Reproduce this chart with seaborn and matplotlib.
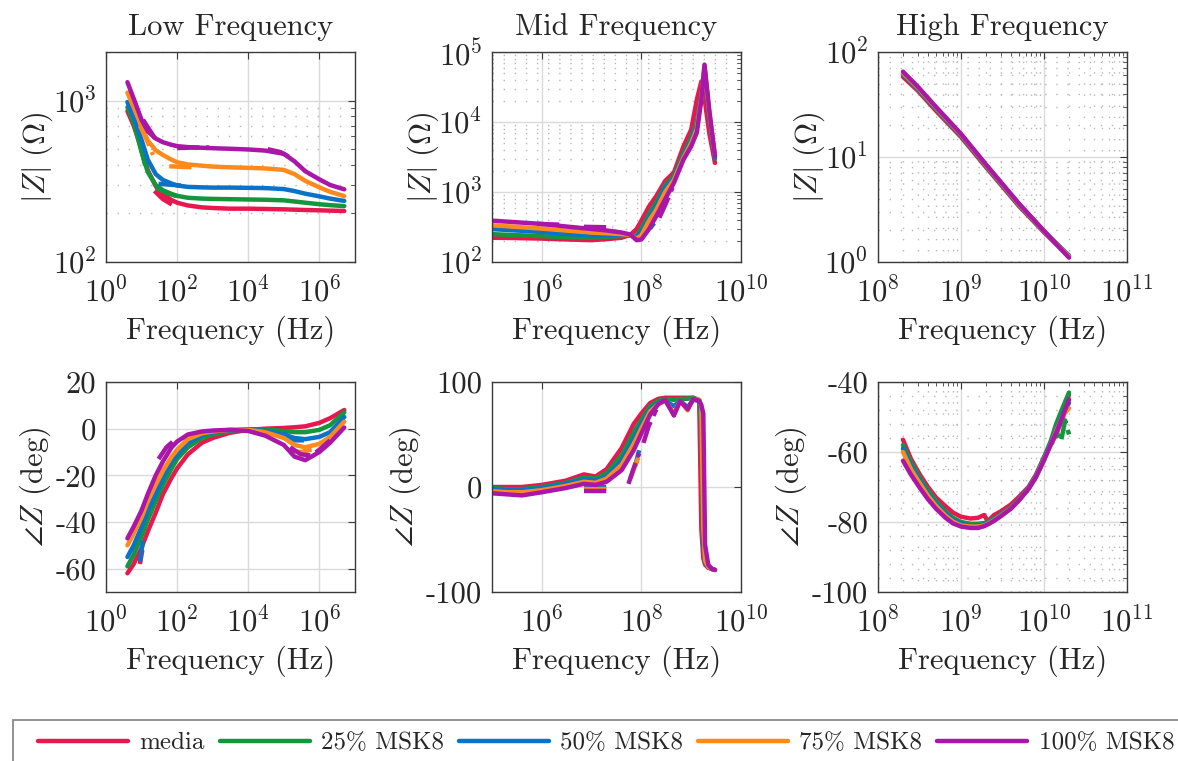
import numpy as np
import pandas as pd
import matplotlib
matplotlib.use("Agg")
import matplotlib.pyplot as plt
import matplotlib.ticker as mticker
from matplotlib.lines import Line2D
from matplotlib.patches import Rectangle
import seaborn as sns

# === Series ===
series = ["media", "25% MSK8", "50% MSK8", "75% MSK8", "100% MSK8"]
colors = ["#E8174F", "#14963C", "#0A72C8", "#FF8A1C", "#A817A8"]

# === Low frequency panel (Hz) ===
lo_f = [4, 6, 10, 15, 25, 40, 70, 100, 200, 500, 1e3, 3e3, 1e4, 3e4, 1e5, 2e5, 4e5, 1e6, 2e6, 5e6]
lo_mag = [
    [860, 700, 500, 370, 295, 262, 242, 233, 224, 218, 216, 214, 214, 213, 212, 211, 210, 209, 208, 207],
    [910, 730, 480, 360, 300, 278, 264, 257, 250, 247, 246, 245, 244, 243, 241, 237, 233, 228, 225, 222],
    [980, 790, 570, 430, 350, 322, 306, 298, 292, 290, 289, 289, 288, 287, 283, 275, 265, 255, 247, 239],
    [1120, 910, 690, 565, 492, 460, 430, 415, 402, 395, 390, 386, 383, 380, 372, 350, 318, 290, 272, 256],
    [1300, 1030, 760, 645, 582, 552, 532, 522, 515, 510, 507, 503, 498, 490, 468, 420, 365, 325, 300, 282],
]
lo_mag_dash = [
    (0, [23, 40, 85], [276, 245, 222]),
    (1, [9, 11, 14], [540, 450, 360]),
    (1, [25, 50, 120], [290, 268, 252]),
    (2, [30, 80, 160], [305, 300, 297]),
    (3, [9, 14, 21], [700, 570, 460]),
    (3, [60, 150, 350], [392, 388, 386]),
    (4, [11, 20, 30], [760, 620, 535]),
    (4, [100, 300, 800], [508, 512, 512]),
    (4, [3.5e4, 8e4, 1.5e5], [500, 480, 445]),
]
lo_ph = [
    [-62, -58, -51, -44, -36, -28, -21, -17, -11, -6, -4, -1.8, -0.5, 0, 0.3, 0.6, 1, 2.5, 4.5, 8],
    [-59, -54, -46, -39, -31, -24, -17, -13, -8, -4, -2.5, -1, -0.3, -0.3, -1, -1.5, -1.5, -0.5, 1.5, 7],
    [-55, -50, -42, -35, -28, -21, -14, -11, -6, -2.8, -1.5, -0.6, -0.3, -1, -2.5, -4, -4.5, -3.5, -1.5, 5],
    [-50, -45, -38, -31, -24, -18, -12, -9, -4.5, -2, -1.2, -0.5, -0.5, -1.5, -4, -7, -8, -6.5, -3.5, 3],
    [-47, -42, -35, -28, -20, -14, -8, -5.5, -2.5, -1.2, -0.8, -0.5, -1, -3, -7, -12, -13.5, -10, -6, 0.5],
]
lo_ph_dash = [
    (0, [9, 10.5], [-58, -52]),
    (2, [9, 10, 11], [-57, -52, -48]),
    (2, [1e5, 2e5, 4e5], [-2, -5, -5]),
    (3, [150, 250, 400], [-5, -3, -2]),
    (3, [1.5e5, 3e5, 6e5], [-9.5, -10, -9]),
    (4, [30, 50, 90], [-13, -8, -4.5]),
    (4, [1.5e5, 3e5, 6e5, 1e6, 2e6], [-8, -11, -11.5, -9, -5]),
]

# === Mid frequency panel (Hz) ===
mid_f = [1e5, 3e5, 1e6, 3e6, 1e7, 2e7, 4e7, 6e7, 8e7, 1e8, 1.4e8, 2e8, 3e8, 4.5e8, 7e8,
         1e9, 1.3e9, 1.6e9, 1.85e9, 2.3e9, 3e9]
mid_mag = [
    [222, 220, 216, 210, 205, 212, 222, 245, 295, 390, 610, 880, 1440, 1900, 4500, 7800, 21000, 38000, 22000, 7000, 2600],
    [250, 242, 234, 226, 222, 228, 235, 238, 240, 300, 480, 720, 1250, 1700, 3600, 6000, 10000, 24000, 52000, 12000, 3000],
    [295, 282, 268, 252, 240, 242, 242, 240, 225, 270, 420, 640, 1150, 1600, 3300, 5500, 9000, 23000, 58000, 13000, 3100],
    [335, 318, 300, 282, 263, 258, 250, 243, 215, 240, 380, 560, 1000, 1500, 3100, 5000, 8000, 22000, 64000, 14000, 3300],
    [390, 370, 350, 322, 296, 282, 264, 247, 205, 210, 290, 455, 790, 1350, 2900, 4500, 7100, 21000, 66000, 15000, 3250],
]
mid_mag_dash = [
    (2, [1.5e8, 1.8e8], [300, 360]),
    (4, [8e5, 1.5e6, 3e6], [350, 345, 340]),
    (4, [7e6, 1.5e7, 2.7e7], [318, 315, 312]),
    (4, [2.3e8, 3e8, 4.2e8], [430, 650, 1150]),
]
mp_f = [1e5, 2e5, 4e5, 1e6, 3e6, 7e6, 1.2e7, 2e7, 4e7, 7e7, 1e8, 1.5e8, 2.2e8, 3e8, 4.5e8,
        6e8, 8.5e8, 1.1e9, 1.45e9, 1.6e9, 1.75e9, 1.9e9, 2.2e9, 2.6e9, 3e9]
mid_ph = [
    [0, 0, 0, 2, 6, 12, 10, 17, 37, 60, 70, 80, 84, 85, 85, 85, 85, 85, 82, -40, -68, -74, -77, -78, -79],
    [-1, -2, -2, 0, 4, 9, 8, 13, 30, 52, 64, 77, 82, 84, 83, 84, 84, 85, 83, 55, -55, -72, -76, -78, -79],
    [-2, -3, -3, -1, 3, 7, 6, 10, 25, 46, 60, 74, 80, 82, 77, 82, 76, 83, 82, 70, -50, -72, -76, -78, -79],
    [-4, -5, -5, -3, 1, 5, 4, 8, 21, 41, 56, 72, 79, 82, 70, 82, 73, 84, 83, 76, -38, -70, -76, -78, -79],
    [-6, -7, -8, -5, -1, 3, 2, 5, 16, 35, 51, 69, 79, 83, 68, 82, 74, 84, 82, 78, 70, -55, -74, -78, -79],
]
mid_ph_dash = [
    (2, [7e6, 1.4e7, 2.5e7], [0, 0, 0]),
    (2, [7.5e7, 9e7], [20, 35]),
    (3, [7e6, 1.4e7, 2.5e7], [-2, -2, -2]),
    (3, [6e7, 7.5e7, 9e7], [8, 20, 30]),
    (4, [7e6, 1.4e7, 2.5e7], [-4, -4, -4]),
    (4, [5.5e7, 7e7, 9e7], [3, 18, 32]),
    (4, [1.1e8, 1.4e8, 2e8], [42, 58, 74]),
]

# === High frequency panel (Hz) ===
hi_f = [2e8, 3e8, 5e8, 1e9, 2e9, 5e9, 1e10, 2e10]
hi_mag = [
    [58, 43, 27.5, 15.5, 8.0, 3.4, 1.92, 1.12],
    [61, 44.5, 28.5, 16, 8.2, 3.5, 1.95, 1.15],
    [62, 45, 29, 16.2, 8.3, 3.5, 1.96, 1.15],
    [63, 46, 29.5, 16.4, 8.4, 3.55, 1.97, 1.13],
    [65, 47, 30, 16.6, 8.5, 3.6, 1.98, 1.1],
]
hp_f = [2e8, 2.5e8, 3.2e8, 4e8, 5e8, 6.5e8, 8e8, 1e9, 1.3e9, 1.6e9, 1.9e9, 2.1e9, 2.5e9, 3e9,
        4e9, 5e9, 6.5e9, 8e9, 1e10, 1.2e10, 1.4e10, 1.7e10, 2e10]
hi_ph = [
    [-56.5, -62, -66.5, -70, -73, -75.5, -77.3, -78.5, -79, -78.8, -78, -79.8, -78, -77, -75, -72.8, -70, -66.5, -61.5, -58, -55, -50, -43.5],
    [-58, -63, -67.5, -71, -74, -77, -78.8, -80, -80.5, -80.5, -80.3, -80, -79, -77.8, -75.8, -73.5, -70.3, -66.8, -61.5, -57, -52, -47, -43],
    [-59, -64, -68.3, -71.8, -74.8, -77.6, -79.4, -80.5, -81, -81, -80.8, -80.3, -79.3, -78, -76, -73.7, -70.5, -67, -62, -57.5, -53.5, -49, -46],
    [-60, -65, -69, -72.5, -75.4, -78.2, -79.9, -81, -81.3, -81.3, -81, -80.5, -79.5, -78.2, -76.1, -73.8, -70.6, -67.2, -62.2, -58, -54, -49.5, -47.5],
    [-62.5, -66.5, -70.3, -73.5, -76.2, -78.8, -80.4, -81.3, -81.7, -81.7, -81.2, -80.7, -79.7, -78.4, -76.2, -73.8, -70.6, -67.2, -62.4, -58, -54.5, -49.5, -45],
]
hi_ph_dash = [
    (0, [1.15e10, 1.3e10], [-58, -57]),
    (1, [1.2e10, 1.4e10, 1.6e10, 1.8e10, 2e10], [-58, -54, -57, -51, -55]),
]

# === Style ===
sns.set_style("white")
plt.rcParams["font.family"] = "cmr10"
plt.rcParams["mathtext.fontset"] = "cm"
plt.rcParams["axes.unicode_minus"] = False
plt.rcParams["axes.formatter.use_mathtext"] = True
FS = 22
W, H = 1178, 761
palette = dict(zip(series, colors))


def draw(ax, freq, curves, dashed):
    rows = []
    for name, vals in zip(series, curves):
        for f, v in zip(freq, vals):
            rows.append((name, "solid", name + "-s", f, v))
    for k, (idx, fs, vs) in enumerate(dashed):
        for f, v in zip(fs, vs):
            rows.append((series[idx], "dash", f"d{k}", f, v))
    df = pd.DataFrame(rows, columns=["series", "kind", "seg", "f", "v"])
    sns.lineplot(data=df, x="f", y="v", hue="series", style="kind", units="seg",
                 estimator=None, hue_order=series, style_order=["solid", "dash"],
                 palette=palette, dashes={"solid": "", "dash": (5, 1.5)},
                 linewidth=3.2, legend=False, ax=ax)


def setup(ax, ylog, **kw):
    ax.set_xscale("log")
    if ylog:
        ax.set_yscale("log")


def finish(ax, xlim, xticks, ylim, ylog, yticks=None, xminor=False, yminor=False):
    ax.set_xlim(xlim)
    ax.set_ylim(ylim)
    ax.xaxis.set_major_locator(mticker.FixedLocator(xticks))
    ax.xaxis.set_major_formatter(mticker.LogFormatterSciNotation())
    if xminor:
        ax.xaxis.set_minor_locator(mticker.LogLocator(base=10, subs=np.arange(2, 10), numticks=50))
    else:
        ax.xaxis.set_minor_locator(mticker.NullLocator())
    ax.xaxis.set_minor_formatter(mticker.NullFormatter())
    if ylog:
        ax.yaxis.set_major_locator(mticker.LogLocator(base=10, numticks=20))
        ax.yaxis.set_major_formatter(mticker.LogFormatterSciNotation())
        ax.yaxis.set_minor_locator(mticker.LogLocator(base=10, subs=np.arange(2, 10), numticks=50))
        ax.yaxis.set_minor_formatter(mticker.NullFormatter())
    else:
        ax.yaxis.set_major_locator(mticker.FixedLocator(yticks))
        ax.yaxis.set_major_formatter(mticker.FuncFormatter(lambda v, p: f"{v:.0f}"))
        if yminor:
            ax.yaxis.set_minor_locator(mticker.AutoMinorLocator(5))
        else:
            ax.yaxis.set_minor_locator(mticker.NullLocator())
    ax.grid(True, which="major", color="#dadada", lw=1.0, ls="-")
    if xminor:
        ax.grid(True, which="minor", axis="x", color="#b8b8b8", lw=1.0, ls=(0, (1, 7)))
    if ylog or yminor:
        ax.grid(True, which="minor", axis="y", color="#b8b8b8", lw=1.0, ls=(0, (1, 7)))
    ax.set_axisbelow(True)
    ax.tick_params(which="both", direction="in", top=True, right=True,
                   labelsize=FS, color="#3a3a3a")
    ax.tick_params(axis="x", which="major", pad=11)
    ax.tick_params(axis="y", which="major", pad=7)
    ax.tick_params(which="major", length=5)
    ax.tick_params(which="minor", length=3)
    for s in ax.spines.values():
        s.set_color("#3a3a3a")
        s.set_linewidth(1.0)
    ax.set_xlabel("Frequency (Hz)", fontsize=FS, labelpad=5)


fig, axes = plt.subplots(2, 3, figsize=(W / 100, H / 100), dpi=100)
fig.subplots_adjust(left=106 / W, right=1127 / W, top=1 - 52 / H,
                    bottom=1 - 592 / H, wspace=137 / 249, hspace=120 / 210)

panels = [
    (axes[0, 0], lo_f, lo_mag, lo_mag_dash, dict(xlim=(1, 1e7), xticks=[1, 1e2, 1e4, 1e6], ylim=(100, 2000), ylog=True)),
    (axes[0, 1], mid_f, mid_mag, mid_mag_dash, dict(xlim=(1e5, 1e10), xticks=[1e6, 1e8, 1e10], ylim=(100, 1e5), ylog=True)),
    (axes[0, 2], hi_f, hi_mag, [], dict(xlim=(1e8, 1e11), xticks=[1e8, 1e9, 1e10, 1e11], ylim=(1, 100), ylog=True, xminor=True)),
    (axes[1, 0], lo_f, lo_ph, lo_ph_dash, dict(xlim=(1, 1e7), xticks=[1, 1e2, 1e4, 1e6], ylim=(-70, 20), ylog=False, yticks=[-60, -40, -20, 0, 20])),
    (axes[1, 1], mp_f, mid_ph, mid_ph_dash, dict(xlim=(1e5, 1e10), xticks=[1e6, 1e8, 1e10], ylim=(-100, 100), ylog=False, yticks=[-100, 0, 100])),
    (axes[1, 2], hp_f, hi_ph, hi_ph_dash, dict(xlim=(1e8, 1e11), xticks=[1e8, 1e9, 1e10, 1e11], ylim=(-100, -40), ylog=False, yticks=[-100, -80, -60, -40], xminor=True, yminor=True)),
]

for ax, freq, curves, dashed, opts in panels:
    setup(ax, **opts)
    draw(ax, freq, curves, dashed)
    finish(ax, **opts)

for ax, title in zip(axes[0], ["Low Frequency", "Mid Frequency", "High Frequency"]):
    ax.set_title(title, fontsize=FS, pad=12)
    ax.set_ylabel(r"$|Z|\ (\Omega)$", fontsize=FS, labelpad=-2)
for ax in axes[1]:
    ax.set_ylabel(r"$\angle Z$ (deg)", fontsize=FS, labelpad=2)

# legend box runs off the right and bottom edge, as in the source figure
fig.patches.append(Rectangle((13 / W, 1 - 775 / H), 1190 / W, 55 / H, transform=fig.transFigure,
                             fill=False, edgecolor="#7f7f7f", lw=1.2, clip_on=False))
handles = [Line2D([0], [0], color=c, lw=3.2) for c in colors]
fig.legend(handles, series, loc="center left", bbox_to_anchor=(28 / W, 1 - 743 / H),
           ncol=5, frameon=False, fontsize=18, handlelength=3.6, handletextpad=0.45,
           columnspacing=0.6, borderpad=0.4, borderaxespad=0)

fig.savefig("out.png", dpi=100)
